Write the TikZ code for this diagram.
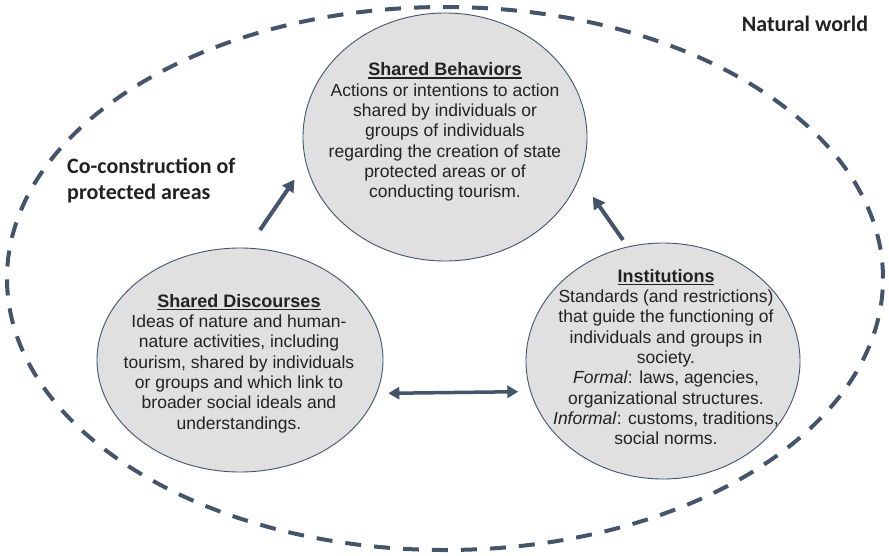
\documentclass[tikz,border=0pt]{standalone}
\usepackage{fontspec}
\setmainfont{Liberation Sans}
\newfontfamily\calfont{Carlito}
\usetikzlibrary{shapes.geometric,arrows.meta}
\definecolor{slate}{HTML}{44546A}
\definecolor{bub}{HTML}{E0E0E0}
\definecolor{ink}{HTML}{222222}
\newcommand\myul[1]{\setbox0\hbox{#1}\rlap{\rule[-3pt]{\wd0}{1.4pt}}\box0}
\newcommand\ttl[1]{\myul{\fontsize{18}{20.2}\selectfont\bfseries #1}}
\begin{document}
\begin{tikzpicture}[x=1pt,y=-1pt,
  bubble/.style={ellipse, draw=slate, line width=0.9pt, fill=bub, inner sep=0pt},
  txt/.style={align=center, text=ink, font=\fontsize{17.5}{20.3}\selectfont, inner sep=0pt},
  lbl/.style={text=ink, font=\calfont\bfseries\fontsize{22}{26.7}\selectfont, inner sep=0pt},
  arr/.style={draw=slate, line width=4pt, -{Triangle[length=12pt,width=13pt]}},
  darr/.style={draw=slate, line width=3.5pt, {Triangle[length=11pt,width=12pt]}-{Triangle[length=11pt,width=12pt]}},
  world/.style={ellipse, draw=slate, line width=4pt, dash pattern=on 16pt off 13pt, inner sep=0pt}]
\useasboundingbox (0,0) rectangle (889,555);
\node[world, minimum width=876pt, minimum height=543pt] (nw) at (445,278.5) {};
\node[bubble, minimum width=284pt, minimum height=248pt] (beh) at (445,137) {};
\node[bubble, minimum width=286pt, minimum height=224pt] (dis) at (240,360) {};
\node[bubble, minimum width=274pt, minimum height=236pt] (ins) at (663,361) {};
\node[txt] (behtxt) at (445,132) {\ttl{Shared Behaviors}\\
  Actions or intentions to action\\ shared by individuals or\\ groups of individuals\\
  regarding the creation of state\\ protected areas or of\\ conducting tourism.};
\node[txt] (distxt) at (239,363.5) {\ttl{Shared Discourses}\\
  Ideas of nature and human-\\ nature activities, including\\ tourism, shared by individuals\\
  or groups and which link to\\ broader social ideals and\\ understandings.};
\node[txt] (instxt) at (666,357) {\ttl{Institutions}\\
  Standards (and restrictions)\\ that guide the functioning of\\ individuals and groups in\\ society.\\
  \textit{Formal}: laws, agencies,\\ organizational structures.\\
  \textit{Informal}: customs, traditions,\\ social norms.};
\node[lbl, anchor=base] (nat) at (805,31.8) {Natural world};
\node[lbl, anchor=base west] (co1) at (67,173) {Co-construction of};
\node[lbl, anchor=base west] (co2) at (67,199.7) {protected areas};
\coordinate (a1s) at (260,230);
\coordinate (a1e) at (294.5,179.5);
\coordinate (a2s) at (623,240);
\coordinate (a2e) at (592.7,196.7);
\coordinate (d1) at (388.3,393.3);
\coordinate (d2) at (518.3,391.7);
\draw[arr] (a1s) -- (a1e);
\draw[arr] (a2s) -- (a2e);
\draw[darr] (d1) -- (d2);
\end{tikzpicture}
\end{document}
